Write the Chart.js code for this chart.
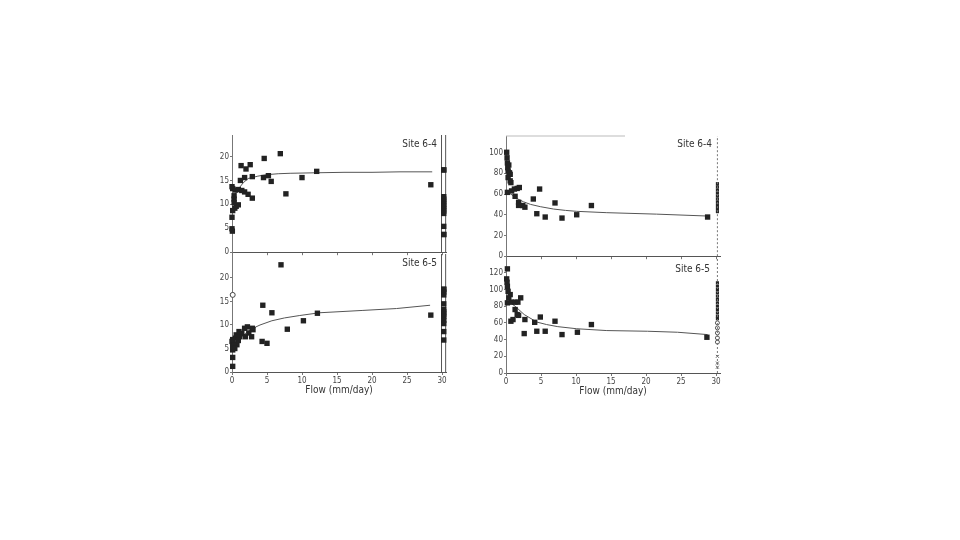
<!DOCTYPE html>
<html>
<head>
<meta charset="utf-8">
<title>Flow vs concentration, sites 6-4 and 6-5</title>
<script src="https://cdn.jsdelivr.net/npm/chart.js@4.4.1/dist/chart.umd.min.js"></script>
<style>
  body { margin: 0; background: #fff; }
  #page { position: relative; width: 960px; height: 540px; overflow: hidden; background: #fff; }
  canvas { position: absolute; }
  .site {
    position: absolute; width: 60px; text-align: right; line-height: 12px;
    font: 10px 'DejaVu Sans Condensed', 'DejaVu Sans', sans-serif; color: #333;
  }
</style>
</head>
<body>
<div id="page">
  <canvas id="leftTop"></canvas>
  <canvas id="leftBottom"></canvas>
  <canvas id="rightTop"></canvas>
  <canvas id="rightBottom"></canvas>
  <div class="site" style="left:377px; top:138px;">Site 6-4</div>
  <div class="site" style="left:377px; top:257px;">Site 6-5</div>
  <div class="site" style="left:652px; top:138px;">Site 6-4</div>
  <div class="site" style="left:650px; top:263px;">Site 6-5</div>
</div>
<script>
// ---- data ----
const flowTicks = [0, 5, 10, 15, 20, 25, 30];
const leftTicks = [0, 5, 10, 15, 20];
const rightTopTicks = [0, 20, 40, 60, 80, 100];
const rightBottomTicks = [0, 20, 40, 60, 80, 100, 120];

// left, site 6-4
const leftTopFlow = [0.0, 0.05, 0.0, 0.1, 0.4, 0.6, 0.9, 0.3, 0.3, 0.3, 0.0, 0.1, 0.5, 0.9, 1.4, 1.8, 2.3, 2.9, 1.2, 1.8, 2.9, 1.3, 2.0, 2.6, 4.5, 4.6, 5.2, 5.6, 6.9, 7.7, 10.0, 12.1, 28.4];
const leftTopConc = [4.9, 4.4, 7.3, 8.7, 9.2, 9.6, 9.9, 10.4, 11.1, 11.8, 13.7, 13.3, 13.0, 13.1, 12.9, 12.6, 12.1, 11.3, 15.0, 15.6, 15.8, 18.1, 17.4, 18.3, 15.6, 19.6, 16.0, 14.8, 20.6, 12.2, 15.6, 16.9, 14.1];
const leftTopFitFlow = [0.3, 0.9, 1.6, 2.3, 3.7, 4.9, 6.6, 8.3, 12, 16, 20, 24, 28.6];
const leftTopFitConc = [11.8, 13.2, 14.5, 15.4, 15.9, 16.2, 16.4, 16.5, 16.6, 16.7, 16.7, 16.8, 16.8];
const leftTopStrip = [17.2, 17.2, 11.6, 11.1, 10.6, 10.1, 9.6, 9.1, 8.6, 8.1, 5.4, 3.7, 3.7];

// left, site 6-5
const leftBottomFlow = [0.0, 0.1, 0.5, 0.1, 0.7, 0.6, 1.1, 0.9, 1.4, 1.8, 1.9, 2.4, 2.9, 2.8, 1.0, 3.0, 2.2, 0.3, 0.4, 0.1, 0.1, 0.1, 4.4, 5.7, 12.2, 28.4, 10.2, 7.9, 4.3, 5.0, 7.0];
const leftBottomConc = [6.5, 4.7, 7.2, 5.4, 5.8, 7.9, 7.5, 6.7, 8.2, 9.3, 7.5, 8.3, 9.3, 7.5, 8.6, 9.0, 9.6, 6.0, 5.0, 3.1, 1.2, 6.9, 14.2, 12.6, 12.5, 12.1, 10.9, 9.1, 6.5, 6.1, 22.8];
const leftBottomOpenFlow = [0.1];
const leftBottomOpenConc = [16.4];
const leftBottomFitFlow = [0.3, 1, 2, 3, 4, 5.7, 7.5, 9.6, 12.5, 15, 18.7, 23.5, 28.3];
const leftBottomFitConc = [5.6, 7.0, 8.3, 9.3, 10.0, 10.9, 11.5, 12.0, 12.6, 12.8, 13.1, 13.5, 14.2];
const leftBottomStrip = [17.6, 17.6, 17.0, 16.4, 14.5, 13.3, 12.8, 12.3, 11.8, 11.0, 10.3, 8.6, 6.8];

// right, site 6-4
const rightTopFlow = [0.1, 0.15, 0.2, 0.25, 0.3, 0.6, 0.3, 0.6, 0.7, 0.5, 0.4, 0.2, 0.8, 1.2, 1.6, 1.9, 1.3, 1.8, 1.8, 2.4, 2.7, 3.9, 4.8, 4.4, 5.6, 7.0, 8.0, 10.1, 12.2, 28.8];
const rightTopPct = [100.3, 95, 90, 85.4, 82.2, 79, 75.9, 72.7, 71, 80.5, 88, 61.6, 63, 64.8, 65.4, 66.3, 57.8, 52, 49, 48.9, 47.3, 55.2, 64.8, 41, 37.8, 51.4, 36.8, 40, 48.9, 37.8];
const rightTopFitFlow = [0.3, 1.0, 1.6, 2.5, 3.5, 4.9, 6.8, 8.5, 10.1, 14.4, 21.5, 28.6];
const rightTopFitPct = [61.6, 58.5, 55.5, 52.5, 50, 47.8, 45.5, 44.2, 43.3, 42, 40.6, 38.8];
const rightTopStrip = [70, 67, 64, 61, 58, 55, 52, 49, 46, 43];

// right, site 6-5
const rightBottomFlow = [0.2, 0.1, 0.15, 0.2, 0.3, 0.6, 0.4, 0.2, 0.8, 1.3, 1.7, 2.1, 1.3, 1.6, 0.7, 1.0, 1.8, 2.7, 2.6, 4.1, 4.9, 4.4, 5.6, 7.0, 8.0, 10.2, 12.2, 28.7];
const rightBottomPct = [124.7, 112.7, 108.7, 103.8, 97.8, 93.9, 89.9, 84, 84.8, 84.8, 84.8, 90, 76, 70, 62, 64, 69, 64, 47.2, 60.7, 67, 50, 50, 62, 46, 48.8, 58, 42.8];
const rightBottomFitFlow = [0.3, 1.3, 2.6, 4.4, 5.8, 7.4, 10.1, 14.4, 20.2, 24.5, 28.8];
const rightBottomFitPct = [86, 80, 70, 61, 58, 55.5, 53, 50.8, 50, 48.8, 46];
const rightBottomStrip = [108, 104, 100, 96, 92, 88, 84, 80, 76, 72, 68, 65];
const rightBottomStripOpen = [60, 54, 48, 42, 37];
const rightBottomStripSmall = [20, 12, 7];

// ---- layout ----
const Y_AXIS_W = 34;
const PAD_TOP = 8;
const PAD_RIGHT = 8;
const INK = '#222';

Chart.defaults.font.family = "'DejaVu Sans Condensed', 'DejaVu Sans', sans-serif";
Chart.defaults.color = '#444';

function pairs(xs, ys) {
    return xs.map((x, i) => ({ x: x, y: ys[i] }));
}

function column(x, ys) {
    return ys.map(y => ({ x: x, y: y }));
}

function dots(data, opts) {
    return Object.assign({
        data: data,
        pointStyle: 'rect',
        pointRadius: 3.8,
        backgroundColor: INK,
        borderColor: INK,
        borderWidth: 0,
        clip: false
    }, opts || {});
}

function curve(data, opts) {
    return Object.assign({
        data: data,
        showLine: true,
        pointRadius: 0,
        borderColor: '#555',
        borderWidth: 1,
        clip: false
    }, opts || {});
}

function makePanel(id, box, datasets) {
    const canvas = document.getElementById(id);
    canvas.width = box.right - box.left + Y_AXIS_W + PAD_RIGHT;
    canvas.height = box.bottom - box.top + PAD_TOP + box.extra;
    canvas.style.left = (box.left - Y_AXIS_W) + 'px';
    canvas.style.top = (box.top - PAD_TOP) + 'px';

    new Chart(canvas.getContext('2d'), {
        type: 'scatter',
        data: { datasets: datasets },
        options: {
            responsive: false,
            animation: false,
            layout: { padding: { top: PAD_TOP, right: PAD_RIGHT, left: 0, bottom: 0 } },
            plugins: { legend: { display: false }, tooltip: { enabled: false } },
            scales: {
                x: {
                    type: 'linear',
                    min: 0,
                    max: box.xMax,
                    afterBuildTicks: scale => { scale.ticks = flowTicks.map(v => ({ value: v })); },
                    afterFit: scale => { scale.height = box.extra; },
                    grid: { drawOnChartArea: false, tickLength: 3, color: '#777' },
                    border: { color: '#555', width: 1 },
                    ticks: {
                        display: box.showX,
                        font: { size: 8 },
                        padding: 1,
                        maxRotation: 0,
                        autoSkip: false
                    },
                    title: {
                        display: box.showX,
                        text: 'Flow (mm/day)',
                        font: { size: 10 },
                        color: '#333',
                        padding: { top: 0, bottom: 4 }
                    }
                },
                y: {
                    min: 0,
                    max: box.yMax,
                    afterBuildTicks: scale => { scale.ticks = box.yTicks.map(v => ({ value: v })); },
                    afterFit: scale => { scale.width = Y_AXIS_W; },
                    grid: { drawOnChartArea: false, tickLength: 2, color: '#777' },
                    border: { color: '#777', width: 1, dash: [3, 2] },
                    ticks: { font: { size: 8 }, padding: 1 }
                }
            }
        }
    });
}

// left figure: solid strip at the right edge
function leftFrame(yMax) {
    return [
        curve(column(29.93, [0, yMax]), { borderColor: '#555' }),
        curve(column(30.52, [0, yMax]), { borderColor: '#555' })
    ];
}

makePanel('leftTop',
    { left: 232, right: 446, top: 135, bottom: 254, extra: 4, xMax: 30.57, yMax: 24.5, yTicks: leftTicks, showX: false },
    [
        dots(pairs(leftTopFlow, leftTopConc)),
        dots(column(30.25, leftTopStrip)),
        curve(pairs(leftTopFitFlow, leftTopFitConc))
    ].concat(leftFrame(24.5)));

makePanel('leftBottom',
    { left: 232, right: 446, top: 254, bottom: 372, extra: 28, xMax: 30.57, yMax: 25.1, yTicks: leftTicks, showX: true },
    [
        dots(pairs(leftBottomFlow, leftBottomConc)),
        dots(pairs(leftBottomOpenFlow, leftBottomOpenConc),
            { pointStyle: 'circle', pointRadius: 2.5, backgroundColor: '#fff', borderColor: '#444', borderWidth: 1 }),
        dots(column(30.25, leftBottomStrip)),
        curve(pairs(leftBottomFitFlow, leftBottomFitConc))
    ].concat(leftFrame(25.1)));

// right figure: dashed strip line
makePanel('rightTop',
    { left: 506, right: 720, top: 136, bottom: 258, extra: 4, xMax: 30.57, yMax: 116, yTicks: rightTopTicks, showX: false },
    [
        dots(pairs(rightTopFlow, rightTopPct)),
        curve(column(30.2, [0, 116]), { borderColor: '#777', borderDash: [2, 2] }),
        dots(column(30.2, rightTopStrip), { pointRadius: 2.2 }),
        curve(pairs(rightTopFitFlow, rightTopFitPct)),
        curve(pairs([0, 17], [116, 116]), { borderColor: '#bbb' })
    ]);

makePanel('rightBottom',
    { left: 506, right: 720, top: 258, bottom: 373, extra: 28, xMax: 30.57, yMax: 137.7, yTicks: rightBottomTicks, showX: true },
    [
        dots(pairs(rightBottomFlow, rightBottomPct)),
        curve(column(30.2, [0, 137.7]), { borderColor: '#777', borderDash: [2, 2] }),
        dots(column(30.2, rightBottomStrip), { pointRadius: 2.2 }),
        dots(column(30.2, rightBottomStripOpen),
            { pointStyle: 'circle', pointRadius: 2, backgroundColor: '#fff', borderColor: '#555', borderWidth: 1 }),
        dots(column(30.2, rightBottomStripSmall),
            { pointStyle: 'crossRot', pointRadius: 2, borderColor: '#555', borderWidth: 1 }),
        curve(pairs(rightBottomFitFlow, rightBottomFitPct))
    ]);
</script>
</body>
</html>
